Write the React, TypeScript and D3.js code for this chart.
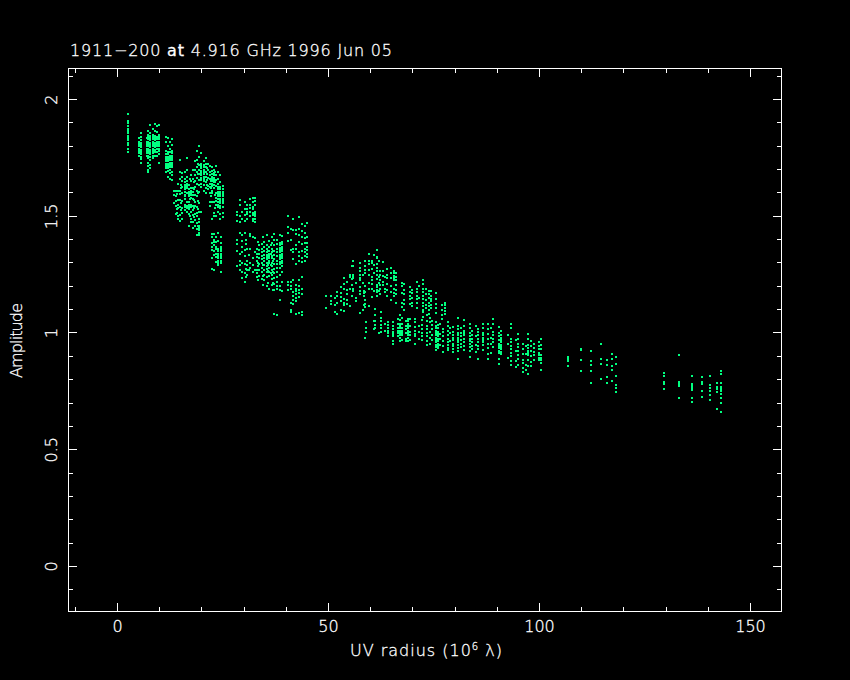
import { useEffect, useRef } from 'react'
import * as d3 from 'd3'

type Track = [number, number[]]

const xMajor = [0, 50, 100, 150]
const xMinor = [-10, 10, 20, 30, 40, 60, 70, 80, 90, 110, 120, 130, 140]
const yMajor = [0, 0.5, 1, 1.5, 2]
const yMinor = [-0.1, 0.1, 0.2, 0.3, 0.4, 0.6, 0.7, 0.8, 0.9, 1.1, 1.2, 1.3, 1.4, 1.6, 1.7, 1.8, 1.9, 2.1]
const yLabels = ['0', '0.5', '1', '1.5', '2']

// short baselines, uv radius < 13
const tracksShort: Track[] = [
  [2.6, [1.94, 1.91, 1.9, 1.885, 1.875, 1.865, 1.855, 1.845, 1.835, 1.825, 1.815, 1.805, 1.79, 1.775]],
  [5.0, [1.835, 1.82, 1.81, 1.8, 1.79, 1.78, 1.77, 1.76]],
  [5.5, [1.857, 1.84, 1.825, 1.815, 1.805, 1.795, 1.785, 1.775, 1.765, 1.755, 1.745, 1.73]],
  [6.9, [1.835, 1.82, 1.81, 1.8, 1.79, 1.78, 1.77, 1.76]],
  [7.3, [1.865, 1.85, 1.84, 1.83, 1.82, 1.81, 1.8, 1.79, 1.78, 1.77, 1.76, 1.75, 1.73, 1.715, 1.70, 1.69]],
  [7.8, [1.89, 1.855, 1.845, 1.835, 1.825, 1.815, 1.805, 1.795, 1.785, 1.775, 1.765, 1.755, 1.74, 1.72, 1.705]],
  [8.3, [1.875, 1.85, 1.84, 1.83, 1.82, 1.81, 1.8, 1.79, 1.78, 1.77, 1.76, 1.75]],
  [8.8, [1.895, 1.865, 1.845, 1.835, 1.825, 1.815, 1.805, 1.795, 1.785, 1.775, 1.76]],
  [9.3, [1.885, 1.86, 1.84, 1.83, 1.82, 1.81, 1.8, 1.79, 1.775, 1.76]],
  [9.8, [1.89, 1.85, 1.84, 1.83, 1.82, 1.81, 1.8, 1.79, 1.78, 1.765, 1.73]],
  [11.4, [1.84, 1.82, 1.78, 1.765, 1.755, 1.745, 1.735, 1.725, 1.715, 1.705, 1.69]],
  [11.9, [1.835, 1.80, 1.775, 1.765, 1.755, 1.745, 1.735, 1.725, 1.715, 1.705, 1.695, 1.67]],
  [12.4, [1.82, 1.79, 1.775, 1.76, 1.75, 1.74, 1.73, 1.72, 1.71, 1.7, 1.685, 1.66]],
  [12.8, [1.83, 1.805, 1.78, 1.77, 1.76, 1.75, 1.74, 1.73, 1.72, 1.71, 1.69, 1.675, 1.655]],
]

// the dense blob from 13 to 25
const tracksBlob: Track[] = [
  [13.4, [1.61, 1.59, 1.555]],
  [13.9, [1.61, 1.585, 1.565, 1.545, 1.51]],
  [14.4, [1.64, 1.61, 1.57, 1.55, 1.535, 1.5, 1.49]],
  [14.9, [1.74, 1.69, 1.66, 1.61, 1.595, 1.57, 1.54, 1.505, 1.48]],
  [15.4, [1.685, 1.67, 1.65, 1.625, 1.6, 1.565, 1.535, 1.515, 1.49]],
  [15.9, [1.69, 1.66, 1.645, 1.635, 1.625, 1.615, 1.59, 1.575, 1.55, 1.525]],
  [16.4, [1.75, 1.70, 1.67, 1.65, 1.64, 1.63, 1.62, 1.6, 1.56, 1.545, 1.535, 1.52]],
  [16.9, [1.635, 1.615, 1.605, 1.595, 1.585, 1.56, 1.55, 1.54, 1.53, 1.51, 1.46]],
  [17.4, [1.675, 1.65, 1.62, 1.61, 1.6, 1.59, 1.58, 1.55, 1.54, 1.52, 1.49, 1.475]],
  [17.9, [1.70, 1.66, 1.62, 1.605, 1.59, 1.575, 1.545, 1.525, 1.505, 1.475, 1.45]],
  [18.4, [1.735, 1.70, 1.675, 1.65, 1.625, 1.59, 1.56, 1.545, 1.51, 1.485, 1.46]],
  [18.9, [1.78, 1.74, 1.71, 1.69, 1.665, 1.64, 1.61, 1.585, 1.54, 1.515, 1.50, 1.47, 1.445, 1.42]],
  [19.4, [1.80, 1.755, 1.72, 1.70, 1.68, 1.655, 1.635, 1.605, 1.555, 1.52, 1.49, 1.475, 1.46, 1.45, 1.44, 1.43, 1.42]],
  [19.9, [1.77, 1.725, 1.715, 1.705, 1.695, 1.685, 1.675, 1.665, 1.655, 1.64, 1.625, 1.52]],
  [20.4, [1.735, 1.72, 1.71, 1.7, 1.69, 1.68, 1.67, 1.66, 1.65, 1.635, 1.61]],
  [20.9, [1.75, 1.725, 1.71, 1.69, 1.67, 1.645, 1.62, 1.6]],
  [21.4, [1.725, 1.70, 1.665, 1.63, 1.615]],
  [21.9, [1.715, 1.69, 1.675, 1.66, 1.64, 1.625, 1.6, 1.56, 1.545]],
  [22.4, [1.71, 1.695, 1.68, 1.67, 1.66, 1.65, 1.64, 1.63, 1.61, 1.6, 1.56, 1.49]],
  [22.9, [1.70, 1.685, 1.675, 1.665, 1.655, 1.645, 1.635, 1.62, 1.56, 1.515, 1.50]],
  [23.4, [1.715, 1.675, 1.655, 1.63, 1.6, 1.58, 1.565, 1.55, 1.50]],
  [23.9, [1.69, 1.66, 1.64, 1.625, 1.615, 1.605, 1.595, 1.585, 1.575, 1.56, 1.55, 1.54, 1.52]],
  [24.4, [1.675, 1.645, 1.625, 1.615, 1.605, 1.595, 1.585, 1.575, 1.565, 1.555, 1.545, 1.535, 1.51, 1.49]],
  [24.9, [1.63, 1.615, 1.605, 1.595, 1.585, 1.575, 1.565, 1.555, 1.54, 1.515, 1.495]],
]

// 22-33, the two small groups below and right of the blob
const tracksMid: Track[] = [
  [22.3, [1.425, 1.41, 1.385, 1.37, 1.355, 1.32, 1.275]],
  [22.9, [1.425, 1.40, 1.39, 1.375, 1.35, 1.335, 1.27]],
  [23.4, [1.41, 1.39, 1.37, 1.36, 1.34, 1.325, 1.305]],
  [23.9, [1.43, 1.395, 1.36, 1.35, 1.34, 1.33, 1.32, 1.31, 1.30, 1.29]],
  [24.5, [1.41, 1.385, 1.37, 1.36, 1.35, 1.34, 1.33, 1.32, 1.31, 1.30, 1.26]],
  [28.4, [1.48, 1.505, 1.52, 1.4, 1.38, 1.35, 1.285]],
  [29.0, [1.57, 1.55, 1.50, 1.475, 1.43, 1.34, 1.31, 1.29, 1.27]],
  [29.6, [1.52, 1.49, 1.42, 1.395, 1.37, 1.345, 1.3, 1.26, 1.235]],
  [30.2, [1.56, 1.53, 1.505, 1.48, 1.43, 1.355, 1.33, 1.295, 1.255, 1.22]],
  [30.8, [1.55, 1.53, 1.52, 1.51, 1.49, 1.36, 1.31, 1.29, 1.27, 1.25]],
  [31.4, [1.575, 1.55, 1.535, 1.52, 1.50, 1.425, 1.415, 1.36, 1.3, 1.28]],
  [32.0, [1.58, 1.56, 1.54, 1.53, 1.515, 1.505, 1.49, 1.48, 1.41, 1.32, 1.29, 1.26]],
  [32.5, [1.58, 1.565, 1.55, 1.52, 1.51, 1.50, 1.49, 1.475, 1.405, 1.345, 1.27]],
]

// 33-45 group
const tracksRight: Track[] = [
  [33.0, [1.36, 1.34, 1.325, 1.31, 1.27, 1.255, 1.24]],
  [33.6, [1.375, 1.355, 1.34, 1.32, 1.295, 1.27, 1.245]],
  [34.2, [1.38, 1.36, 1.345, 1.33, 1.315, 1.30, 1.28, 1.26, 1.23]],
  [34.8, [1.39, 1.37, 1.35, 1.335, 1.32, 1.31, 1.29, 1.27, 1.25, 1.225]],
  [35.4, [1.42, 1.375, 1.36, 1.345, 1.335, 1.325, 1.315, 1.30, 1.285, 1.275, 1.26, 1.24, 1.20]],
  [36.0, [1.395, 1.37, 1.35, 1.34, 1.33, 1.32, 1.31, 1.30, 1.28, 1.26, 1.245, 1.19]],
  [36.6, [1.41, 1.385, 1.36, 1.345, 1.33, 1.32, 1.30, 1.285, 1.27, 1.25, 1.23, 1.205]],
  [37.2, [1.425, 1.40, 1.375, 1.35, 1.335, 1.315, 1.295, 1.275, 1.255, 1.235, 1.21, 1.185, 1.08]],
  [37.8, [1.40, 1.38, 1.36, 1.345, 1.33, 1.31, 1.295, 1.28, 1.26, 1.24, 1.22, 1.2, 1.19, 1.075]],
  [38.4, [1.42, 1.385, 1.375, 1.365, 1.355, 1.345, 1.335, 1.325, 1.315, 1.305, 1.295, 1.28, 1.25, 1.20, 1.185, 1.14]],
  [39.0, [1.415, 1.39, 1.38, 1.37, 1.36, 1.35, 1.34, 1.33, 1.32, 1.31, 1.30, 1.285, 1.26, 1.22, 1.18]],
  [40.3, [1.50, 1.455, 1.43, 1.395, 1.22, 1.205, 1.185]],
  [41.0, [1.445, 1.40, 1.355, 1.22, 1.2, 1.19, 1.13, 1.1, 1.09]],
  [41.7, [1.49, 1.44, 1.36, 1.345, 1.315, 1.225, 1.175, 1.16, 1.14, 1.125]],
  [42.3, [1.44, 1.425, 1.375, 1.36, 1.295, 1.205, 1.19, 1.18, 1.165, 1.15, 1.135, 1.08]],
  [43.0, [1.495, 1.445, 1.42, 1.39, 1.345, 1.33, 1.31, 1.225, 1.20, 1.185, 1.17, 1.155, 1.085]],
  [43.7, [1.465, 1.435, 1.41, 1.38, 1.35, 1.32, 1.305, 1.24, 1.19, 1.165, 1.09, 1.075]],
  [44.4, [1.46, 1.43, 1.405, 1.385, 1.36, 1.345, 1.33, 1.31]],
  [44.9, [1.47, 1.41, 1.385, 1.37, 1.355, 1.34, 1.325]],
]

// upper arch, 49-78
const tracksArch: Track[] = [
  [49.5, [1.16, 1.105]],
  [50.7, [1.16, 1.135, 1.125]],
  [51.6, [1.15, 1.12, 1.09]],
  [52.0, [1.175, 1.16, 1.13, 1.08]],
  [53.0, [1.195, 1.17, 1.155, 1.135, 1.1]],
  [53.6, [1.235, 1.21, 1.19, 1.145, 1.13, 1.12, 1.095]],
  [54.3, [1.22, 1.185, 1.165, 1.14, 1.125]],
  [55.2, [1.25, 1.24, 1.19, 1.115]],
  [55.9, [1.31, 1.285, 1.25, 1.245, 1.24, 1.235, 1.19, 1.18]],
  [57.4, [1.30, 1.28, 1.265, 1.25, 1.235, 1.225, 1.195, 1.18, 1.165, 1.085]],
  [58.3, [1.18, 1.17, 1.16, 1.12]],
  [58.7, [1.31, 1.285, 1.27, 1.255, 1.20, 1.175, 1.14, 1.125, 1.11]],
  [59.5, [1.34, 1.31, 1.295, 1.27, 1.25, 1.215, 1.19, 1.115]],
  [60.2, [1.31, 1.30, 1.275, 1.24, 1.225, 1.21, 1.19, 1.155]],
  [61.4, [1.355, 1.325, 1.32, 1.295, 1.28, 1.265, 1.25, 1.23, 1.205, 1.195, 1.185, 1.175, 1.16]],
  [62.2, [1.265, 1.25, 1.225, 1.205, 1.19, 1.165]],
  [62.8, [1.305, 1.265, 1.245, 1.22, 1.205]],
  [63.9, [1.275, 1.25, 1.235, 1.21, 1.185, 1.16]],
  [64.9, [1.28, 1.255, 1.235, 1.2, 1.175, 1.14]],
  [65.6, [1.265, 1.255, 1.245, 1.235, 1.225, 1.19, 1.17, 1.16]],
  [66.1, [1.255, 1.24, 1.225, 1.205, 1.185, 1.165, 1.13]],
  [67.4, [1.215, 1.20, 1.17, 1.13, 1.11]],
  [67.9, [1.21, 1.185, 1.165, 1.14, 1.125, 1.10]],
  [69.3, [1.195, 1.175, 1.16, 1.145, 1.125]],
  [69.9, [1.185, 1.17, 1.15, 1.13, 1.115]],
  [70.9, [1.22, 1.19, 1.175, 1.16, 1.145, 1.13, 1.105]],
  [72.4, [1.226, 1.21, 1.19, 1.175, 1.16, 1.145, 1.13, 1.115, 1.1, 1.09, 1.07]],
  [73.0, [1.19, 1.165, 1.14, 1.12, 1.105]],
  [73.8, [1.18, 1.165, 1.15, 1.13, 1.115, 1.10, 1.08]],
  [74.4, [1.18, 1.16, 1.145, 1.135, 1.12, 1.105]],
  [75.5, [1.17, 1.145, 1.125, 1.105, 1.085]],
  [76.9, [1.12, 1.10, 1.075, 1.06]],
  [77.6, [1.13, 1.12, 1.105, 1.095, 1.08]],
]

// lower band, 59-100
const tracksBand: Track[] = [
  [58.6, [0.98]],
  [59.0, [1.047, 1.02, 1.005]],
  [61.0, [1.104, 1.075, 1.05, 1.035, 1.02]],
  [62.4, [1.09, 1.065, 1.05, 1.035, 1.02, 1.005]],
  [64.2, [1.047, 1.035, 1.02, 1.01, 1.0, 0.985]],
  [65.4, [1.047, 1.03, 1.015, 1.005, 0.995, 0.985, 0.965, 0.955]],
  [66.4, [1.06, 1.04, 1.02, 1.01, 1.0, 0.985]],
  [66.9, [1.076, 1.055, 1.04, 1.03, 1.02, 1.01, 1.0, 0.99, 0.98, 0.965]],
  [67.5, [1.065, 1.04, 1.02, 1.01, 1.0, 0.99, 0.97]],
  [68.4, [1.05, 1.03, 1.015, 1.0, 0.975, 0.965]],
  [68.9, [1.062, 1.05, 1.04, 1.03, 1.02, 1.01, 1.0, 0.99, 0.98, 0.965]],
  [69.4, [1.06, 1.03, 1.005, 0.99, 0.97]],
  [70.5, [1.062, 1.045, 1.025, 1.01, 0.995, 0.985, 0.954]],
  [72.1, [1.054, 1.035, 1.015, 1.0, 0.985, 0.969]],
  [73.3, [1.076, 1.05, 1.03, 1.015, 1.0, 0.985, 0.965, 0.947]],
  [74.6, [1.05, 1.035, 1.015, 0.99, 0.97]],
  [75.4, [1.047, 1.03, 1.02, 1.01, 1.0, 0.99, 0.98, 0.97, 0.96, 0.95, 0.94, 0.926]],
  [75.9, [1.035, 1.02, 1.005, 0.995, 0.985, 0.975, 0.965, 0.955, 0.945, 0.935]],
  [77.2, [1.019, 1.005, 0.985, 0.965, 0.945, 0.919]],
  [78.4, [1.047, 1.03, 1.01, 0.99, 0.975, 0.96, 0.95, 0.935, 0.926]],
  [79.6, [1.026, 1.005, 0.99, 0.98, 0.97, 0.955, 0.945, 0.93, 0.919]],
  [80.8, [1.066, 1.03, 1.015, 1.0, 0.99, 0.98, 0.97, 0.96, 0.95, 0.935, 0.925, 0.89]],
  [81.3, [1.02, 1.0, 0.985, 0.97, 0.955, 0.94]],
  [82.0, [1.054, 1.03, 1.01, 1.0, 0.99, 0.975, 0.96, 0.945, 0.926]],
  [83.5, [1.04, 1.02, 1.0, 0.985, 0.975, 0.965, 0.955, 0.94, 0.925, 0.897]],
  [84.1, [1.01, 0.99, 0.975, 0.96, 0.945, 0.93]],
  [85.5, [1.019, 1.005, 0.99, 0.975, 0.96, 0.945, 0.93, 0.89]],
  [86.7, [1.04, 1.02, 1.0, 0.99, 0.98, 0.97, 0.96, 0.95, 0.926]],
  [87.9, [1.04, 1.015, 0.995, 0.975, 0.955, 0.935, 0.91, 0.89]],
  [89.0, [1.06, 1.04, 1.005, 0.99, 0.975, 0.96, 0.94]],
  [90.4, [1.026, 1.0, 0.985, 0.97, 0.955, 0.945, 0.935, 0.925, 0.915, 0.89, 0.868]],
  [90.9, [1.01, 0.99, 0.98, 0.97, 0.96, 0.95, 0.94, 0.93, 0.92, 0.91]],
  [93.2, [1.04, 1.02, 0.975, 0.96, 0.945, 0.93, 0.915, 0.9, 0.88, 0.861]],
  [95.0, [0.997, 0.975, 0.955, 0.94, 0.925, 0.905, 0.89, 0.861]],
  [96.2, [0.954, 0.93, 0.91, 0.885, 0.87, 0.85, 0.833]],
  [97.3, [0.997, 0.975, 0.95, 0.935, 0.925, 0.915, 0.905, 0.885, 0.86, 0.826]],
  [98.0, [0.965, 0.945, 0.925, 0.9, 0.875, 0.86]],
  [98.7, [0.954, 0.935, 0.92, 0.905, 0.883]],
  [99.9, [0.961, 0.945, 0.93, 0.915, 0.905, 0.895, 0.883]],
  [100.3, [0.976, 0.95, 0.93, 0.905, 0.895, 0.885, 0.87, 0.84]],
]

// long baselines, sparse
const tracksLong: Track[] = [
  [106.8, [0.897, 0.888, 0.88, 0.857]],
  [109.8, [0.933, 0.926, 0.883, 0.837]],
  [112.3, [0.923, 0.88, 0.862, 0.837, 0.786]],
  [114.5, [0.955, 0.89, 0.866, 0.805]],
  [116.1, [0.886, 0.862, 0.812, 0.786]],
  [117.2, [0.909, 0.89, 0.857, 0.843, 0.794]],
  [118.1, [0.897, 0.869, 0.817, 0.776, 0.765, 0.747]],
  [129.5, [0.829, 0.815, 0.79, 0.78, 0.762]],
  [133.0, [0.905, 0.79, 0.78, 0.772, 0.72]],
  [136.2, [0.815, 0.783, 0.775, 0.765, 0.757, 0.72, 0.704]],
  [138.6, [0.812, 0.79, 0.78, 0.752, 0.726]],
  [140.5, [0.815, 0.776, 0.765, 0.75, 0.733, 0.712]],
  [142.0, [0.786, 0.769, 0.76, 0.747, 0.676]],
  [143.1, [0.837, 0.823, 0.786, 0.769, 0.76, 0.75, 0.74, 0.72, 0.70, 0.66]],
]

// odd points between the tracks
const tracksLoose: Track[] = [
  [14.2, [1.595, 1.53, 1.515]],
  [15.1, [1.635, 1.62, 1.555, 1.525]],
  [16.1, [1.605, 1.585, 1.54]],
  [17.1, [1.66, 1.575, 1.5]],
  [18.1, [1.645, 1.615, 1.57, 1.535, 1.495]],
  [19.1, [1.725, 1.68, 1.6, 1.565, 1.53, 1.46]],
  [21.1, [1.705, 1.68, 1.655, 1.635]],
  [22.1, [1.65, 1.62, 1.585]],
  [23.1, [1.69, 1.645, 1.59, 1.535]],
  [30.5, [1.40, 1.38, 1.275, 1.24]],
  [31.1, [1.335, 1.27]],
  [33.3, [1.39, 1.30, 1.285, 1.225]],
  [34.5, [1.41, 1.29, 1.245, 1.205]],
  [35.7, [1.35, 1.33, 1.29, 1.265, 1.215]],
  [36.3, [1.375, 1.34, 1.29, 1.255]],
  [36.9, [1.35, 1.31, 1.26, 1.215, 1.185]],
  [55.5, [1.285, 1.23, 1.205, 1.16]],
  [56.6, [1.215, 1.15, 1.135]],
  [58.1, [1.25, 1.215, 1.1]],
  [60.7, [1.335, 1.29, 1.255, 1.18, 1.05, 1.015]],
  [61.9, [1.31, 1.24, 1.215, 1.18, 1.0]],
  [63.3, [1.24, 1.19, 1.175, 1.04, 1.01]],
  [71.5, [1.2, 1.15, 1.03, 1.005, 0.975]],
  [74.0, [1.065, 1.045, 1.005, 0.98, 0.955]],
  [76.5, [1.04, 0.995, 0.975, 0.95]],
  [78.9, [1.02, 1.0, 0.965]],
  [85.0, [1.03, 0.985, 0.95, 0.92]],
  [88.4, [1.02, 0.98, 0.955, 0.915]],
  [92.6, [0.99, 0.955, 0.895]],
  [94.5, [0.97, 0.925, 0.88, 0.855]],
  [96.8, [0.945, 0.91, 0.865, 0.84]],
]

const allTracks = [...tracksShort, ...tracksBlob, ...tracksMid, ...tracksRight, ...tracksArch, ...tracksBand, ...tracksLong, ...tracksLoose]
const points = allTracks.flatMap(([uv, amps]) => amps.map((amp) => ({ uv, amp })))

export default function App() {
  const ref = useRef<SVGSVGElement | null>(null)

  useEffect(() => {
    if (!ref.current) return
    const svg = d3.select(ref.current)
    svg.selectAll('*').remove()

    const left = 68.5
    const right = 781.5
    const top = 68.5
    const bottom = 611.5

    const x = d3.scaleLinear().domain([-11.61, 157.35]).range([left, right])
    const y = d3.scaleLinear().domain([2.133, -0.193]).range([top, bottom])

    const font = '"DejaVu Sans", sans-serif'

    svg.append('rect').attr('width', 850).attr('height', 680).attr('fill', '#000')

    svg
      .append('g')
      .selectAll('rect')
      .data(points)
      .enter()
      .append('rect')
      .attr('x', (d) => Math.round(x(d.uv)) - 1)
      .attr('y', (d) => Math.round(y(d.amp)) - 1)
      .attr('width', 2)
      .attr('height', 2)
      .attr('fill', '#00ff80')

    const frame = svg.append('g').attr('shape-rendering', 'crispEdges')

    const styleAxis = (g: d3.Selection<SVGGElement, unknown, null, undefined>) => {
      g.selectAll('.domain').remove()
      g.selectAll('line').attr('stroke', '#fff').attr('stroke-width', 1)
      g.selectAll('text').remove()
    }

    const sides: [d3.Axis<d3.NumberValue>, string, number[], number][] = []
    for (const [vals, size] of [
      [xMajor, 8.5],
      [xMinor, 4.5],
    ] as [number[], number][]) {
      sides.push([d3.axisBottom(x), `translate(0,${bottom})`, vals, -size])
      sides.push([d3.axisTop(x), `translate(0,${top})`, vals, -size])
    }
    for (const [vals, size] of [
      [yMajor, 8.5],
      [yMinor, 4.5],
    ] as [number[], number][]) {
      sides.push([d3.axisLeft(y), `translate(${left},0)`, vals, -size])
      sides.push([d3.axisRight(y), `translate(${right},0)`, vals, -size])
    }
    sides.forEach(([axis, tr, vals, size]) => {
      frame
        .append('g')
        .attr('transform', tr)
        .call(axis.tickValues(vals).tickSize(size).offset(0))
        .call(styleAxis as never)
    })

    frame
      .append('rect')
      .attr('x', left)
      .attr('y', top)
      .attr('width', right - left)
      .attr('height', bottom - top)
      .attr('fill', 'none')
      .attr('stroke', '#fff')

    const label = (s: string) =>
      svg
        .append('text')
        .attr('fill', '#fff')
        .attr('stroke', '#fff')
        .attr('stroke-width', 0.3)
        .attr('font-family', font)
        .attr('font-weight', 200)
        .attr('font-size', 16)
        .text(s)

    xMajor.forEach((v) => {
      label(String(v)).attr('x', x(v)).attr('y', 632).attr('text-anchor', 'middle')
    })
    yMajor.forEach((v, i) => {
      label(yLabels[i])
        .attr('text-anchor', 'middle')
        .attr('transform', `translate(57,${y(v)}) rotate(-90)`)
    })

    label('Amplitude')
      .attr('text-anchor', 'middle')
      .attr('transform', `translate(22,340.5) rotate(-90)`)
      .attr('textLength', 75)

    const xTitle = label('')
      .attr('x', 350)
      .attr('y', 656)
      .attr('textLength', 152)
    xTitle.append('tspan').text('UV radius  (10')
    xTitle.append('tspan').attr('dy', -6).attr('font-size', 10).text('6')
    xTitle.append('tspan').attr('dy', 6).text(' λ)')

    const title = label('').attr('x', 70).attr('y', 56).attr('textLength', 322)
    title.append('tspan').text('1911−200 ')
    title.append('tspan').attr('font-weight', 400).text('at')
    title.append('tspan').text(' 4.916 GHz 1996 Jun 05')
  }, [])

  return (
    <svg
      ref={ref}
      width={850}
      height={680}
      viewBox="0 0 850 680"
      style={{ position: 'absolute', left: 0, top: 0, display: 'block' }}
      role="img"
      aria-label="Amplitude against UV radius"
    />
  )
}
